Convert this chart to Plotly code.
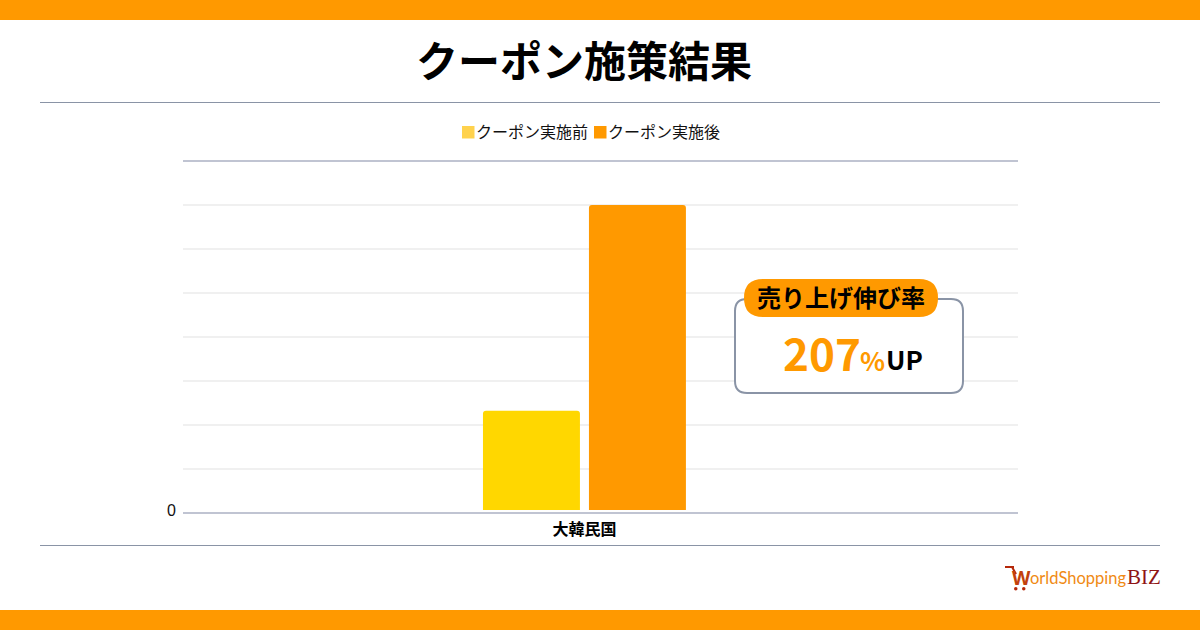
import plotly.graph_objects as go

W, H = 1200, 630
JP = "Noto Sans CJK JP"

categories = ["大韓民国"]
series_names = ["クーポン実施前", "クーポン実施後"]
before_values = [100]
after_values = [307]
series_colors = ["#ffd700", "#ff9900"]
legend_colors = ["#ffd24d", "#ff9900"]
grid_values = [41.3, 85.6, 129.9, 174.1, 218.4, 262.7, 307]
title_text = "クーポン施策結果"
badge_text = "売り上げ伸び率"


def px(x):
    return x / W


def py(y):
    return 1 - y / H


def rect(x0, y0, x1, y1, color):
    return dict(type="rect", xref="paper", yref="paper", x0=px(x0), x1=px(x1),
                y0=py(y0), y1=py(y1), fillcolor=color, line_width=0)


def hline(x0, x1, y, color, width=1):
    return dict(type="line", xref="paper", yref="paper", x0=px(x0), x1=px(x1),
                y0=py(y), y1=py(y), line=dict(color=color, width=width))


def round_box(x0, y0, x1, y1, r, fill, line_color=None, line_width=0):
    p = lambda x, y: f"{px(x)},{py(y)}"
    path = (f"M {p(x0 + r, y0)} L {p(x1 - r, y0)} Q {p(x1, y0)} {p(x1, y0 + r)} "
            f"L {p(x1, y1 - r)} Q {p(x1, y1)} {p(x1 - r, y1)} "
            f"L {p(x0 + r, y1)} Q {p(x0, y1)} {p(x0, y1 - r)} "
            f"L {p(x0, y0 + r)} Q {p(x0, y0)} {p(x0 + r, y0)} Z")
    return dict(type="path", xref="paper", yref="paper", path=path, fillcolor=fill,
                line=dict(color=line_color or fill, width=line_width))


def label(x, y, text, size, color="#000000", anchor="left", family=JP):
    return dict(xref="paper", yref="paper", x=px(x), y=py(y), text=text, showarrow=False,
                xanchor=anchor, yanchor="middle", align=anchor,
                font=dict(family=family, size=size, color=color), borderpad=0, borderwidth=0)


fig = go.Figure()
fig.add_trace(go.Bar(x=categories, y=before_values, name=series_names[0],
                     marker=dict(color=series_colors[0], line_width=0)))
fig.add_trace(go.Bar(x=categories, y=after_values, name=series_names[1],
                     marker=dict(color=series_colors[1], line_width=0)))

shapes = [
    rect(0, 0, W, 20, "#ff9900"),
    rect(0, 610, W, H, "#ff9900"),
    hline(40, 1160, 102.5, "#8a94a6"),
    hline(40, 1160, 545.5, "#8a94a6"),
    rect(462, 126, 474.5, 138.5, legend_colors[0]),
    rect(594, 126, 606.5, 138.5, legend_colors[1]),
    round_box(735, 299, 963, 393, 12, "#ffffff", "#8a94a6", 2),
    round_box(744, 279, 938, 317, 19, "#ff9900"),
    # logo cart
    rect(1005, 566, 1014, 568, "#b5280a"),
    dict(type="line", xref="paper", yref="paper", x0=px(1012), x1=px(1016),
         y0=py(567), y1=py(574), line=dict(color="#b5280a", width=2)),
    dict(type="circle", xref="paper", yref="paper", x0=px(1014), x1=px(1017.5),
         y0=py(587), y1=py(590.5), fillcolor="#b5280a", line_width=0),
    dict(type="circle", xref="paper", yref="paper", x0=px(1022), x1=px(1025.5),
         y0=py(587), y1=py(590.5), fillcolor="#b5280a", line_width=0),
]

annotations = [
    label(584, 58, f"<b>{title_text}</b>", 42, anchor="center"),
    label(476, 131, series_names[0], 16, "#111111"),
    label(608, 131, series_names[1], 16, "#111111"),
    label(841, 296, f"<b>{badge_text}</b>", 24, anchor="center"),
    label(783, 352, "<b>207</b>", 44, "#ff9900"),
    label(860, 359, "<b>%</b>", 26, "#ff9900"),
    label(886, 358, "<b>UP</b>", 26),
    label(1012, 578, "<b>W</b>", 19, "#c2410c", family="Noto Sans"),
    label(1030, 578, "orldShopping", 16.5, "#f08a14", family="Lato"),
    label(1127, 577, "BIZ", 21, "#8f1414", family="Liberation Serif"),
]

fig.update_layout(
    width=W, height=H,
    margin=dict(l=0, r=0, t=0, b=0),
    paper_bgcolor="#ffffff", plot_bgcolor="#ffffff",
    showlegend=False,
    barmode="group", bargap=0.736, bargroupgap=0.085, barcornerradius=3,
    shapes=shapes, annotations=annotations,
    xaxis=dict(domain=[px(183), px(1018)], type="category", range=[-0.5, 0.54],
               automargin=False, ticklabelstandoff=2,
               showline=True, mirror=True, linecolor="#c0c4d2", linewidth=2,
               ticks="", showgrid=False, zeroline=False,
               tickfont=dict(family=JP, size=16, color="#000000", weight="bold")),
    yaxis=dict(domain=[py(512), py(162)], range=[-2.01, 350.3], automargin=False,
               tickvals=[0], ticktext=["0"], showgrid=False, zeroline=False, showline=False,
               ticks="", ticklabelstandoff=6,
               tickfont=dict(family="Liberation Sans", size=16, color="#111111"),
               minor=dict(tickvals=grid_values, showgrid=True, gridcolor="#f0f0f0",
                          gridwidth=2, ticks="")),
    font=dict(family=JP),
)

fig.write_html("out.html", config={"displayModeBar": False},
               post_script="document.body.style.margin='0';")
